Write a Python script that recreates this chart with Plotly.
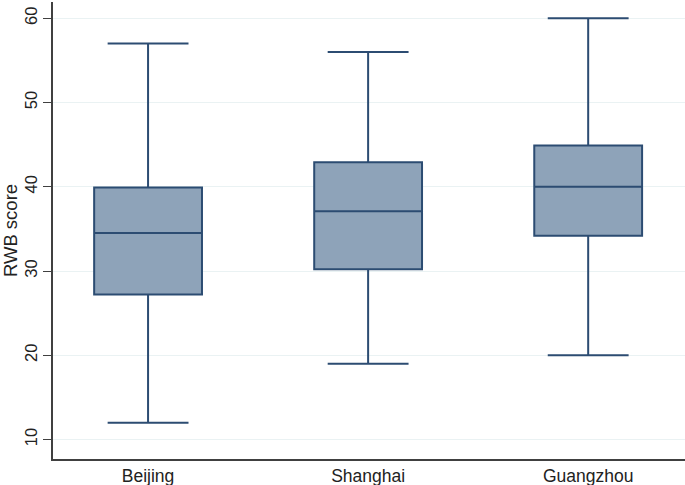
import plotly.graph_objects as go

cities = ['Beijing', 'Shanghai', 'Guangzhou']
lower = [12, 19, 20]
q1 = [27.2, 30.2, 34.2]
median = [34.5, 37.1, 40]
q3 = [39.9, 42.9, 44.9]
upper = [57, 56, 60]

y_ticks = [10, 20, 30, 40, 50, 60]

fig = go.Figure()
fig.add_trace(go.Box(
    x=cities, q1=q1, median=median, q3=q3,
    lowerfence=lower, upperfence=upper,
    fillcolor='#8EA3B9',
    line=dict(color='#2C4C72', width=2),
    whiskerwidth=0.75,
    showlegend=False,
))

fig.update_layout(
    width=685, height=485,
    margin=dict(l=53, r=0, t=2, b=26),
    paper_bgcolor='white', plot_bgcolor='white',
    font=dict(family='Liberation Sans, Arial, sans-serif', color='#222222'),
    boxgap=0.51, boxgroupgap=0,
    xaxis=dict(
        range=[-0.432, 2.44],
        showline=True, linecolor='#404040', linewidth=1.5,
        showgrid=False, ticks='',
        tickfont=dict(size=17.5),
    ),
    yaxis=dict(
        range=[7.69, 61.93],
        tickvals=y_ticks,
        showline=True, linecolor='#404040', linewidth=1.5,
        ticks='outside', ticklen=8, tickwidth=1.2, tickcolor='#404040',
        tickangle=-90, tickfont=dict(size=16.5),
        showgrid=True, gridcolor='#EAF2F3', gridwidth=1,
        zeroline=False,
        title=dict(text='RWB score', font=dict(size=18.5), standoff=4),
    ),
)

# drop the browser's default body margin so the figure sits at 0,0
fig.write_html("out.html", config={'displayModeBar': False},
               post_script="document.body.style.margin='0';")
